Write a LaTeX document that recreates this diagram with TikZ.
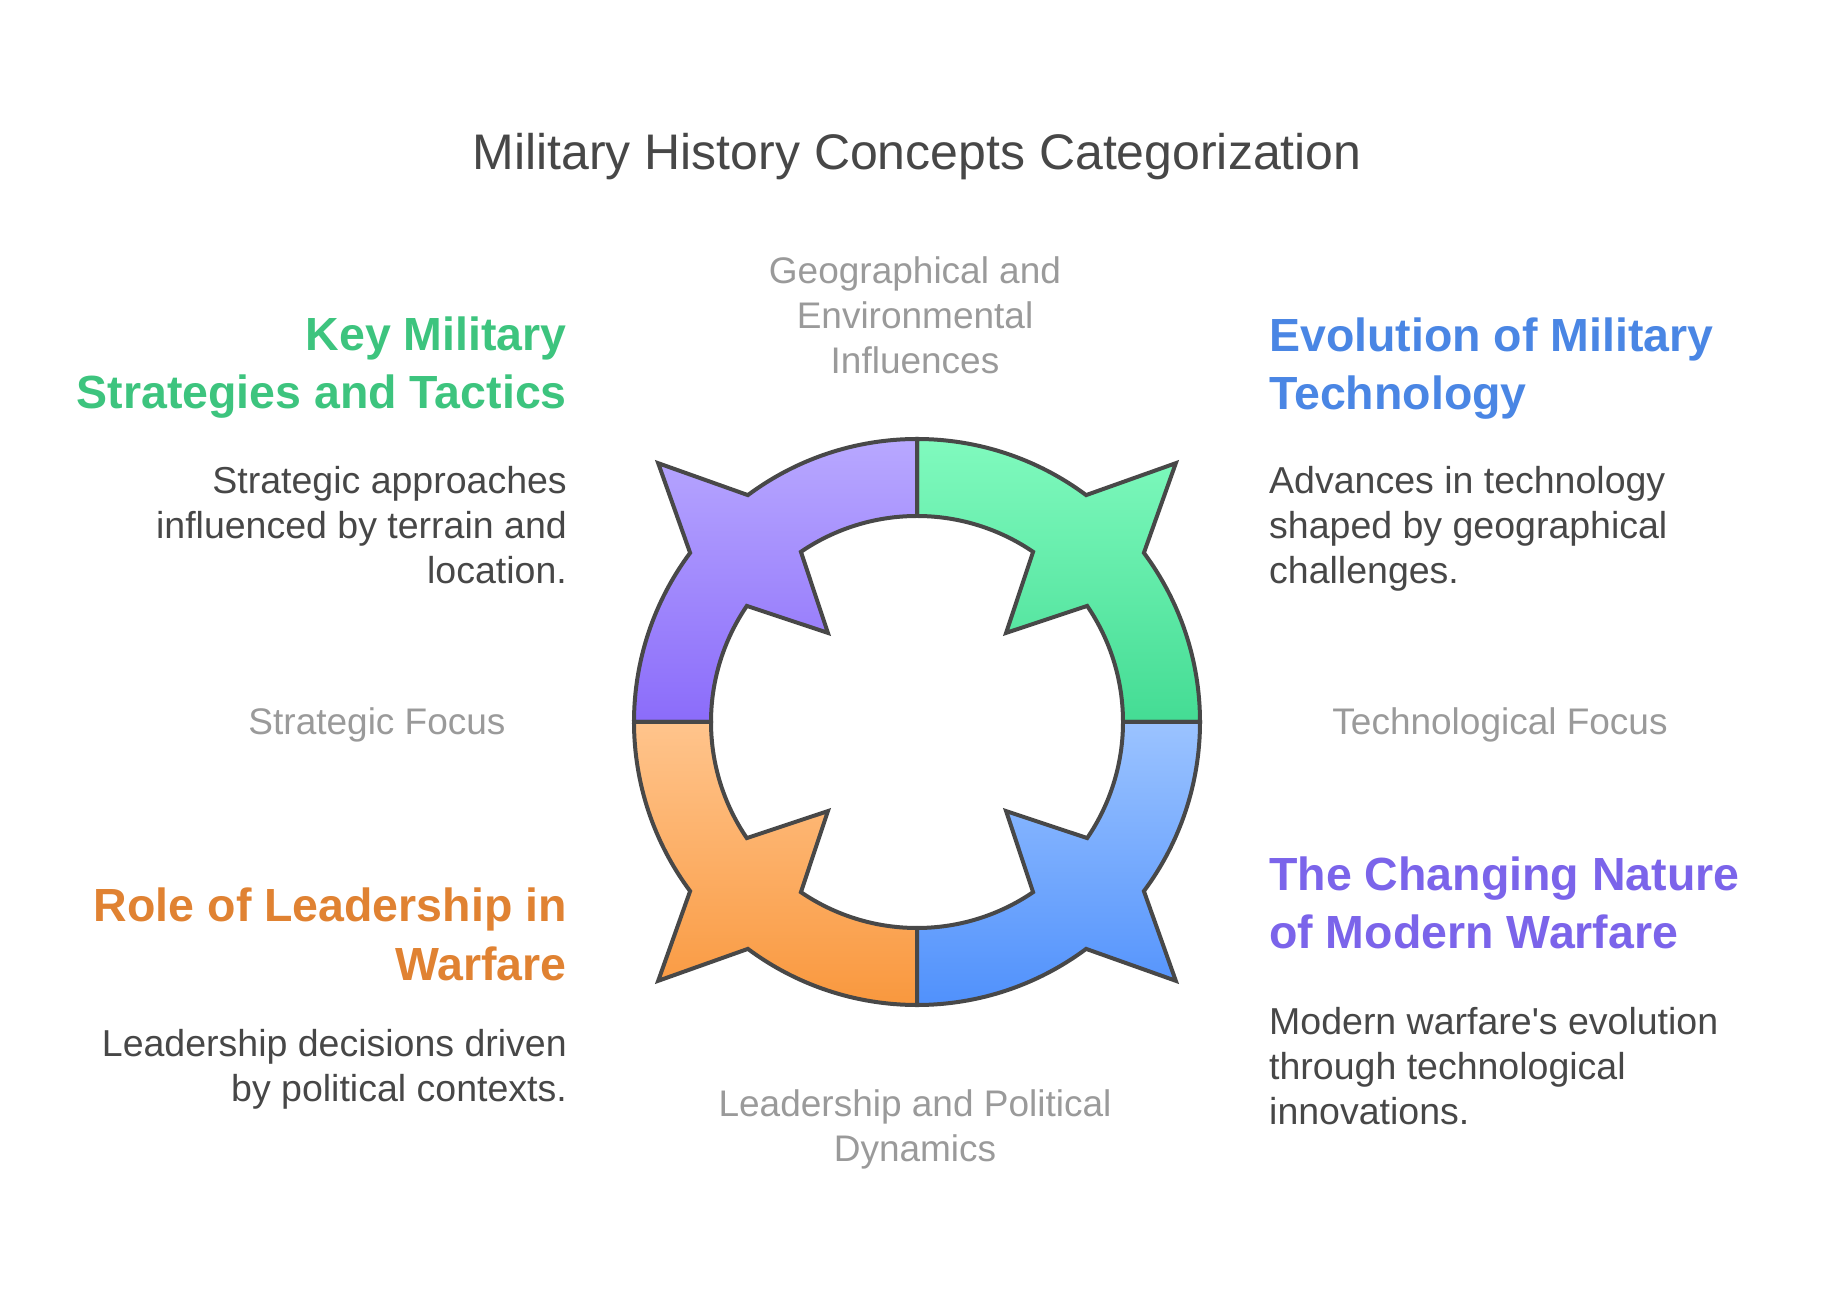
\documentclass[tikz,border=0pt]{standalone}
\usepackage{fontspec}
\setmainfont{Liberation Sans}
\usetikzlibrary{positioning}

\definecolor{inkgray}{HTML}{474747}
\definecolor{softgray}{HTML}{9A9A9A}
\definecolor{edgegray}{HTML}{484848}
\definecolor{headgreen}{HTML}{3DC47E}
\definecolor{headblue}{HTML}{4A86E4}
\definecolor{headpurple}{HTML}{7B64EA}
\definecolor{headorange}{HTML}{E08232}
\definecolor{greentop}{HTML}{80FABE}
\definecolor{greenbot}{HTML}{44DC94}
\definecolor{purptop}{HTML}{B8A8FF}
\definecolor{purpbot}{HTML}{8B6CFA}
\definecolor{orantop}{HTML}{FFC48C}
\definecolor{oranbot}{HTML}{F9983E}
\definecolor{bluetop}{HTML}{9BC3FF}
\definecolor{bluebot}{HTML}{5091FC}

\begin{document}
\begin{tikzpicture}
  [x=1pt,y=1pt,line join=miter,
   piece/.style={draw=edgegray,line width=4pt},
   txt/.style={inner sep=0pt,text=inkgray,font=\fontsize{37.5}{45}\selectfont},
   txt left/.style={txt,align=right,anchor=base east},
   txt right/.style={txt,align=left,anchor=base west},
   head left/.style={txt left,font=\bfseries\fontsize{46.5}{58.5}\selectfont},
   head right/.style={txt right,font=\bfseries\fontsize{46.5}{58.5}\selectfont},
   focus/.style={inner sep=0pt,text=softgray,align=center,anchor=base,font=\fontsize{37}{45}\selectfont}]

  \useasboundingbox (0,0) rectangle (1836,1310);

  % title
  \node [inner sep=0pt,anchor=base,text=inkgray,font=\fontsize{50}{60}\selectfont]
        (title) at (917,1140) {Military History Concepts Categorization};

  % ring of four pieces
  \coordinate (ctr) at (917,588);
  \begin{scope}[shift={(ctr)}]
    \foreach \a/\ctop/\cbot in {0/greentop/greenbot,90/purptop/purpbot,
                                180/orantop/oranbot,270/bluetop/bluebot}
    {
      \pgfmathsetmacro\m{\a+45}
      \pgfmathsetmacro\b{\a+90}
      \pgfmathsetmacro\oa{\m-8.3}
      \pgfmathsetmacro\ob{\m+8.3}
      \pgfmathsetmacro\ia{\m-10.7}
      \pgfmathsetmacro\ib{\m+10.7}
      \path [piece,top color=\ctop,bottom color=\cbot]
        (\a:283) arc [start angle=\a,end angle=\oa,radius=283]
        -- (\m:366) -- (\ob:283)
        arc [start angle=\ob,end angle=\b,radius=283]
        -- (\b:206) arc [start angle=\b,end angle=\ib,radius=206]
        -- (\m:126) -- (\ia:206)
        arc [start angle=\ia,end angle=\a,radius=206] -- cycle;
    }
  \end{scope}

  % focus labels round the ring (multi-line nodes sit on their last line)
  \node [focus] (geo)   at (915,936)  {Geographical and\\Environmental\\Influences};
  \node [focus] (strat) at (377,575)  {Strategic Focus};
  \node [focus] (tech)  at (1500,575) {Technological Focus};
  \node [focus] (lead)  at (915,149)  {Leadership and Political\\Dynamics};

  % left side
  \node [head left,text=headgreen] (keyh) at (567,901) {Key Military\\Strategies and Tactics};
  \node [txt left] (keyd) at (567,726) {Strategic approaches\\influenced by terrain and\\location.};
  \node [head left,text=headorange] (roleh) at (567,330) {Role of Leadership in\\Warfare};
  \node [txt left] (roled) at (567,209) {Leadership decisions driven\\by political contexts.};

  % right side
  \node [head right,text=headblue] (evoh) at (1269,900) {Evolution of Military\\Technology};
  \node [txt right] (evod) at (1269,726) {Advances in technology\\shaped by geographical\\challenges.};
  \node [head right,text=headpurple] (modh) at (1269,361) {The Changing Nature\\of Modern Warfare};
  \node [txt right] (modd) at (1269,186) {Modern warfare\textquotesingle s evolution\\through technological\\innovations.};
\end{tikzpicture}
\end{document}
